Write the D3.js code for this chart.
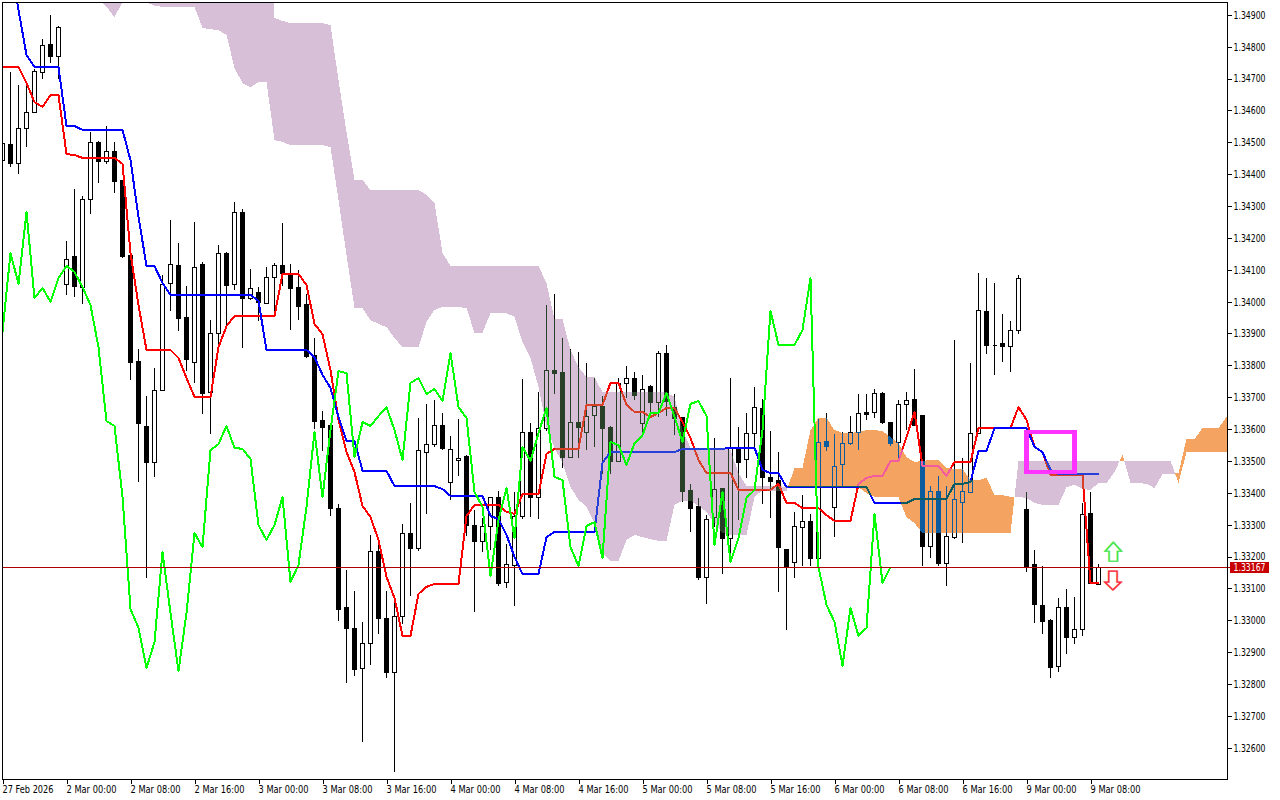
<!DOCTYPE html>
<html>
<head>
<meta charset="utf-8">
<title>H1 chart with Ichimoku</title>
<script src="https://cdn.jsdelivr.net/npm/d3@7"></script>
<style>
html,body{margin:0;padding:0;background:#fff;}
svg{display:block;}
text{font-family:"DejaVu Sans",sans-serif;font-size:10.5px;fill:#000;}
</style>
</head>
<body>
<svg id="chart" width="1280" height="800"></svg>
<script>
// prices are in points: 133167 means 1.33167
const opens=[134444,134494,134435,134545,134595,134721,134808,134771,134055,134143,134046,134322,134501,134441,134473,134382,134146,133814,133610,133497,133723,134058,134115,133952,133811,134118,133717,133902,134153,134055,134281,134011,134030,133996,134077,134115,134087,134046,133993,133833,133629,133613,133352,133042,132976,132850,132929,133218,133007,132838,133013,133274,133227,133528,133553,133613,133434,133503,133515,133299,133249,133296,133387,133120,133174,133327,133591,133387,133603,133785,133779,133512,133622,133591,133644,133672,133607,133500,133745,133760,133620,133735,133685,133839,133669,133638,133409,133359,133136,133324,133415,133258,133541,133506,133588,133666,133450,133440,133224,133183,133293,133312,133196,133563,133356,133490,133556,133591,133654,133654,133713,133622,133560,133679,133694,133644,133233,133406,133180,133261,133371,133403,133588,133971,133864,133870,133861,133911,133349,133177,133048,133001,132857,133042,132948,132973,133337,133114];
const highs=[134498,134724,134683,134680,134733,134827,134903,134868,134193,134357,134335,134536,134507,134554,134504,134382,134153,133854,133707,133795,134087,134259,134187,134052,134253,134128,133945,134181,134159,134316,134294,134106,134049,134112,134124,134250,134121,134102,134027,133889,133660,133613,133368,133161,133095,132998,133271,133240,133095,133064,133305,133371,133638,133682,133694,133654,133581,133635,133522,133349,133324,133390,133409,133243,133406,133760,133622,133720,133993,134027,133889,133854,133845,133811,133763,133707,133613,133763,133801,133782,133773,133741,133848,133867,133713,133638,133431,133387,133334,133575,133418,133763,133610,133654,133735,133698,133597,133531,133227,133343,133396,133337,133635,133654,133588,133594,133644,133713,133713,133729,133720,133622,133694,133720,133792,133644,133425,133456,133425,133883,133512,133811,134093,134077,134062,133964,133942,134087,133406,133224,133174,133007,133073,133101,133076,133371,133406,133180];
const lows=[134444,134425,134404,134488,134595,134702,134752,134702,134024,134018,133996,134278,134375,134435,134344,134140,133757,133437,133136,133453,133723,133974,133911,133785,133748,133651,133588,133870,133917,134040,133857,134008,133942,133996,133958,134052,133914,133945,133826,133603,133534,133330,133001,132806,132828,132622,132863,132960,132822,132527,132992,133080,133221,133337,133547,133538,133381,133456,133268,133029,133218,133224,133111,133105,133048,133321,133327,133321,133597,133713,133481,133512,133512,133538,133547,133462,133462,133500,133701,133694,133588,133651,133641,133644,133585,133375,133280,133130,133054,133296,133148,133215,133318,133450,133541,133368,133324,133092,132973,133136,133174,133174,133193,133534,133265,133425,133553,133538,133632,133638,133619,133550,133512,133600,133613,133174,133199,133174,133111,133258,133246,133403,133588,133839,133773,133814,133782,133902,133155,132995,132960,132822,132841,132897,132929,132954,133117,133114];
const closes=[134498,134435,134545,134595,134724,134805,134771,134862,134134,134049,134322,134501,134441,134473,134378,134143,133811,133620,133497,133723,134055,134118,133948,133820,134109,133713,133902,134153,134052,134281,134011,134043,133999,134077,134115,134090,134043,133986,133829,133625,133607,133352,133035,132976,132847,132929,133218,133007,132838,133013,133274,133227,133534,133553,133613,133541,133538,133509,133299,133249,133296,133387,133117,133177,133327,133591,133387,133603,133785,133776,133512,133622,133607,133641,133672,133603,133500,133745,133760,133707,133726,133685,133839,133688,133635,133406,133352,133136,133318,133412,133258,133544,133497,133588,133669,133450,133437,133230,133167,133296,133312,133196,133560,133547,133484,133556,133591,133651,133647,133713,133622,133556,133679,133691,133613,133233,133406,133180,133265,133381,133406,133588,133974,133864,133864,133861,133911,134074,133170,133051,132998,132853,133042,132948,132973,133334,133117,133167];

const tenkan=[134737,134737,134737,134686,134626,134611,134648,134648,134463,134460,134451,134451,134451,134451,134451,134432,134153,133989,133848,133848,133848,133848,133823,133760,133701,133701,133701,133857,133923,133955,133955,133955,133955,133955,133955,134087,134087,134087,134052,133930,133898,133785,133629,133528,133465,133359,133324,133252,133136,133070,132951,132951,133083,133105,133114,133114,133114,133114,133327,133362,133362,133362,133362,133340,133334,133396,133396,133396,133522,133538,133538,133538,133538,133676,133676,133676,133745,133745,133676,133654,133654,133638,133651,133666,133666,133622,133572,133503,133462,133462,133462,133462,133409,133409,133409,133409,133409,133428,133368,133368,133352,133352,133352,133330,133312,133312,133312,133428,133447,133453,133453,133500,133500,133575,133654,133484,133484,133484,133453,133497,133497,133497,133603,133603,133603,133603,133603,133669,133629,133544,133528,133456,133456,133456,133456,133456,133117,133117];
const kijun=[135072,135072,134915,134774,134736,134736,134736,134736,134551,134551,134539,134539,134539,134539,134539,134539,134444,134266,134112,134112,134058,134021,134021,134021,134021,134021,134021,134021,134021,134021,134021,134021,134002,133848,133848,133848,133848,133848,133848,133826,133770,133729,133638,133563,133563,133469,133469,133469,133469,133421,133421,133421,133421,133421,133421,133412,133390,133390,133390,133390,133390,133327,133318,133268,133199,133145,133145,133145,133261,133277,133277,133277,133277,133277,133277,133494,133528,133528,133528,133528,133528,133528,133528,133528,133528,133538,133538,133538,133538,133538,133538,133541,133541,133541,133541,133472,133462,133462,133418,133418,133418,133418,133418,133418,133418,133418,133418,133418,133418,133368,133368,133368,133368,133368,133381,133381,133381,133381,133381,133428,133428,133434,133531,133531,133603,133603,133603,133603,133603,133544,133528,133472,133459,133459,133459,133459,133459,133459];
const chikou=[133905,134153,134055,134281,134011,134043,133999,134074,134112,134093,134046,133989,133857,133625,133610,133387,133035,132976,132850,132932,133214,133023,132841,133023,133274,133230,133534,133553,133610,133541,133538,133506,133299,133252,133299,133387,133120,133174,133356,133591,133387,133597,133782,133776,133512,133622,133610,133641,133669,133597,133503,133745,133760,133710,133726,133688,133839,133669,133635,133403,133356,133139,133315,133415,133258,133544,133500,133588,133666,133450,133440,133230,133170,133296,133308,133196,133560,133550,133487,133556,133581,133651,133651,133713,133638,133560,133679,133688,133641,133236,133403,133183,133258,133384,133409,133597,133971,133864,133864,133864,133911,134074,133167,133048,132995,132857,133039,132951,132976,133334,133117,133167];
const spanA=[135072,135072,135072,135072,135072,135072,135072,135056,135041,135025,135009,134978,134950,134925,134893,134940,134984,134984,134940,134928,134925,134925,134925,134925,134925,134859,134855,134852,134837,134733,134686,134673,134689,134689,134507,134501,134491,134491,134491,134491,134491,134485,134319,134146,133980,133980,133942,133930,133920,133886,133857,133857,133857,133936,133974,133983,133983,133983,133980,133902,133902,133964,133964,133964,133952,133873,133823,133732,133607,133541,133494,133418,133378,133356,133305,133211,133186,133186,133252,133268,133261,133255,133249,133249,133362,133375,133375,133359,133340,133305,133274,133268,133268,133268,133387,133409,133406,133406,133406,133478,133478,133597,133635,133635,133597,133588,133588,133591,133597,133597,133594,133575,133556,133512,133497,133500,133503,133503,133478,133475,133475,133440,133440,133447,133393,133393,133387,133387,133384,133368,133362,133362,133362,133418,133425,133412,133409,133431,133431,133465,133519,133431,133431,133428,133415,133459,133459,133462,133569,133569,133603,133603,133603,133638];
const spanB=[135417,135417,135417,135417,135417,135417,135417,135417,135417,135417,135417,135417,135417,135417,135417,135417,135417,135417,135417,135417,135417,135417,135417,135417,135417,135417,135417,135417,135417,135417,135417,135417,135417,135417,134890,134881,134874,134874,134874,134874,134874,134868,134695,134532,134382,134382,134350,134350,134350,134350,134350,134350,134350,134335,134309,134153,134112,134112,134112,134112,134112,134112,134112,134112,134112,134112,134112,134112,134058,133945,133945,133848,133795,133763,133763,133716,133716,133716,133716,133716,133716,133716,133716,133716,133701,133597,133541,133541,133541,133541,133541,133534,133462,133421,133421,133421,133421,133421,133418,133418,133418,133418,133418,133418,133418,133418,133418,133418,133399,133387,133387,133387,133387,133324,133305,133274,133274,133274,133274,133274,133274,133274,133274,133274,133274,133274,133274,133500,133500,133500,133500,133500,133500,133500,133500,133500,133500,133500,133500,133500,133500,133500,133500,133500,133500,133500,133500,133431,133528,133528,133528,133528,133528,133528];

const timeLabels=["27 Feb 2026","2 Mar 00:00","2 Mar 08:00","2 Mar 16:00","3 Mar 00:00","3 Mar 08:00","3 Mar 16:00","4 Mar 00:00","4 Mar 08:00","4 Mar 16:00","5 Mar 00:00","5 Mar 08:00","5 Mar 16:00","6 Mar 00:00","6 Mar 08:00","6 Mar 16:00","9 Mar 00:00","9 Mar 08:00"];
const timeTickBars=[0,8,16,24,32,40,48,56,64,72,80,88,96,104,112,120,128,136];
const priceTicks=[132600,132700,132800,132900,133000,133100,133200,133300,133400,133500,133600,133700,133800,133900,134000,134100,134200,134300,134400,134500,134600,134700,134800,134900];
const lastPrice=133167;
const boxBars=[128,134];
const boxPrices=[133591,133465];
const upArrow={bar:138.85,price:133245};
const downArrow={bar:138.8,price:133095};

const plot={left:3,right:1227,top:3,bottom:779};
const x=d3.scaleLinear().domain([0,153]).range([2.5,2.5+8*153]);
const y=d3.scaleLinear().domain([134937.1,132502]).range([plot.top,plot.bottom]);
const py=v=>Math.round(y(v))+0.5;
const fmt=d=>(d/1e5).toFixed(5);

const svg=d3.select("#chart");
svg.append("rect").attr("width",1280).attr("height",800).attr("fill","#fff");
svg.append("defs").append("clipPath").attr("id","plotClip").append("rect")
  .attr("x",plot.left).attr("y",plot.top).attr("width",plot.right-plot.left).attr("height",plot.bottom-plot.top);
const g=svg.append("g").attr("clip-path","url(#plotClip)");
// the clipped group is its own blending context, so it needs its own white ground
g.append("rect").attr("x",plot.left).attr("y",plot.top).attr("width",plot.right-plot.left).attr("height",plot.bottom-plot.top).attr("fill","#fff");

// candles
const bars=opens.map((o,i)=>({i,o,h:highs[i],l:lows[i],c:closes[i]}));
const cg=g.append("g").attr("shape-rendering","crispEdges");
cg.selectAll("path.wick").data(bars).join("path").attr("class","wick")
  .attr("d",d=>`M${x(d.i)},${py(d.h)}V${py(d.l)}`)
  .attr("stroke","#000").attr("fill","none");
cg.selectAll("path.body").data(bars).join("path").attr("class","body")
  .attr("d",d=>{const t=py(Math.max(d.o,d.c)),b=py(Math.min(d.o,d.c)),c=x(d.i);
    return `M${c-2},${t}H${c+2}V${b}H${c-2}Z`;})
  .attr("stroke","#000").attr("fill",d=>d.c>=d.o?"#fff":"#000");

// tenkan and kijun
const line=d3.line().x((d,i)=>x(i)).y(d=>y(d));
function drawLine(vals,color){
  g.append("path").attr("d",line(vals)).attr("fill","none").attr("stroke",color)
   .attr("stroke-width",2).attr("shape-rendering","crispEdges").attr("stroke-linejoin","round");
}
drawLine(tenkan,"#FF0000");
drawLine(kijun,"#0000FF");

// cloud: blended so that it inverts what is below it, as the terminal does
const segs=[];let cur=null;
for(let i=0;i<spanA.length;i++){
  const bull=spanA[i]>spanB[i];
  if(cur&&cur.bull!==bull){
    const a0=spanA[i-1],b0=spanB[i-1],a1=spanA[i],b1=spanB[i];
    const t=(b0-a0)/((a1-a0)-(b1-b0));
    const v=a0+t*(a1-a0);
    const p={i:i-1+t,a:v,b:v};
    cur.pts.push(p);segs.push(cur);
    cur={bull,pts:[p]};
  }
  if(!cur)cur={bull,pts:[]};
  cur.pts.push({i,a:spanA[i],b:spanB[i]});
}
segs.push(cur);
const area=d3.area().x(d=>x(d.i)).y0(d=>y(d.a)).y1(d=>y(d.b));
g.selectAll("path.cloud").data(segs).join("path").attr("class","cloud")
  .attr("d",d=>area(d.pts))
  .attr("fill",d=>d.bull?"#0B5B9F":"#274027")
  .attr("shape-rendering","crispEdges")
  .style("mix-blend-mode","difference");

// chikou
drawLine(chikou,"#00FF00");

// last-price line
svg.append("line").attr("x1",plot.left).attr("x2",1230).attr("y1",py(lastPrice)).attr("y2",py(lastPrice))
  .attr("stroke","#B00000").attr("shape-rendering","crispEdges");

// drawn rectangle
g.append("rect").attr("x",x(boxBars[0])).attr("y",y(boxPrices[0]))
  .attr("width",x(boxBars[1])-x(boxBars[0])).attr("height",y(boxPrices[1])-y(boxPrices[0]))
  .attr("fill","none").attr("stroke","#FF33FF").attr("stroke-width",4.4).attr("shape-rendering","crispEdges");

// arrows, with the colour fringes of the terminal's text rendering
const upShape="M0,0L8.2,9H4.2V19H-4.2V9H-8.2Z";
const downShape="M0,0L8.2,-8H4.2V-19H-4.2V-8H-8.2Z";
function arrow(shape,a,left,right,main){
  const tx=x(a.bar),ty=y(a.price);
  [[left,-0.6],[right,0.6],[main,0]].forEach(([c,off])=>{
    g.append("path").attr("d",shape).attr("transform",`translate(${tx+off},${ty})`)
     .attr("fill","none").attr("stroke",c).attr("stroke-width",1.2);
  });
}
arrow(upShape,upArrow,"#C8F060","#80E8E8","#44E844");
arrow(downShape,downArrow,"#F5B050","#F090C0","#FF2A3C");

// frame and axes
svg.append("rect").attr("x",2.5).attr("y",2.5).attr("width",1225).attr("height",777)
  .attr("fill","none").attr("stroke","#000").attr("shape-rendering","crispEdges");

const yAxis=d3.axisRight(y).tickValues(priceTicks).tickFormat(fmt).tickSize(4).tickPadding(2);
const ya=svg.append("g").attr("transform","translate(1227.5,0)").call(yAxis);
ya.select(".domain").remove();
ya.selectAll("line").attr("stroke","#000").attr("shape-rendering","crispEdges");
ya.selectAll("text").attr("textLength",32).attr("lengthAdjust","spacingAndGlyphs").attr("fill","#000");

const xAxis=d3.axisBottom(x).tickValues(timeTickBars).tickFormat((d,i)=>timeLabels[i]).tickSize(4).tickPadding(2);
const xa=svg.append("g").attr("transform","translate(0,779.5)").call(xAxis);
xa.select(".domain").remove();
xa.selectAll("line").attr("stroke","#000").attr("shape-rendering","crispEdges");
xa.selectAll("text").attr("text-anchor","start").attr("textLength",(d,i)=>i===0?51:50)
  .attr("lengthAdjust","spacingAndGlyphs").attr("dx",-0.5).attr("fill","#000");

// last-price tag
svg.append("rect").attr("x",1230).attr("y",py(lastPrice)-5.5).attr("width",39).attr("height",11).attr("fill","#C80000");
svg.append("text").attr("x",1233.5).attr("y",py(lastPrice)+3.8).text(fmt(lastPrice))
  .attr("textLength",32).attr("lengthAdjust","spacingAndGlyphs").style("fill","#fff");
</script>
</body>
</html>
